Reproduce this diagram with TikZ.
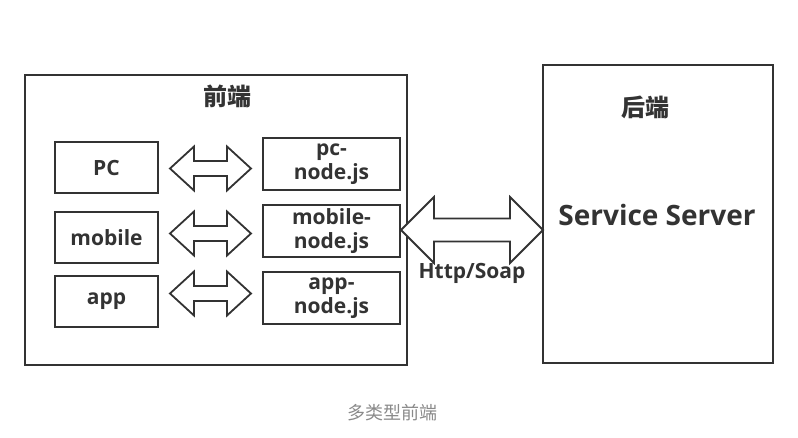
\documentclass[tikz,border=0pt]{standalone}
\usepackage{fontspec}
\setmainfont{Open Sans}
\newfontfamily\cjk{Noto Sans CJK SC}
\usetikzlibrary{calc}
\definecolor{ink}{HTML}{333333}
\definecolor{cap}{HTML}{8A8A8A}
\tikzset{
  box/.style={draw=ink, line width=2pt, inner sep=0pt, font=\fontsize{21}{24}\selectfont\bfseries, text=ink, align=center},
  blk/.style={draw=ink, line width=1.8pt, fill=white, line join=miter},
}
\newcommand\blockarrow[5]{%
  \draw[blk] (#1) -- ++(#5,-#3) -- ++(0,#3-#4) -- ($(#2)+(-#5,-#4)$) -- ++(0,#4-#3) -- (#2)
    -- ++(-#5,#3) -- ++(0,#4-#3) -- ($(#1)+(#5,#4)$) -- ++(0,#3-#4) -- cycle;}
\begin{document}
\begin{tikzpicture}[x=1pt,y=-1pt]
\useasboundingbox (0,0) rectangle (798,437);
\fill[white] (0,0) rectangle (798,437);
% frontend
\node[box, minimum width=382pt, minimum height=290pt] (fe) at (216,220) {};
\node[text=ink, font=\cjk\bfseries\fontsize{24}{28}\selectfont] (fet) at (227,96) {前端};
\node[box, minimum width=103pt, minimum height=51pt] (pc) at (106.5,167.5) {PC};
\node[box, minimum width=103pt, minimum height=51pt] (mb) at (106.5,237.5) {mobile};
\node[box, minimum width=103pt, minimum height=51pt] (ap) at (106.5,301.5) {app};
\node[box, minimum width=137pt, minimum height=52pt] (pcn) at (331.5,164) {pc-\\node.js};
\node[box, minimum width=137pt, minimum height=52pt] (mbn) at (331.5,231) {mobile-\\node.js};
\node[box, minimum width=137pt, minimum height=52pt] (apn) at (331.5,298) {app-\\node.js};
% backend
\node[box, minimum width=230pt, minimum height=298pt] (be) at (658,214) {};
\node[text=ink, font=\cjk\bfseries\fontsize{24}{28}\selectfont] (bet) at (645,107) {后端};
\node[text=ink, font=\fontsize{28}{32}\selectfont\bfseries] (ss) at (657,215) {Service Server};
% arrows
\coordinate (a1) at ($(pc.east)+(11,1)$);
\coordinate (b1) at ($(pc.east)+(92,1)$);
\coordinate (a2) at ($(mb.east)+(11,-4)$);
\coordinate (b2) at ($(mb.east)+(92,-4)$);
\coordinate (a3) at ($(ap.east)+(11,-8)$);
\coordinate (b3) at ($(ap.east)+(92,-8)$);
\blockarrow{a1}{b1}{22}{7.5}{24}
\blockarrow{a2}{b2}{22}{7.5}{24}
\blockarrow{a3}{b3}{22}{7.5}{24}
\coordinate (c1) at ($(mbn.east)+(0,-1)$);
\coordinate (c2) at ($(mbn.east -| be.west)+(1,-1)$);
\blockarrow{c1}{c2}{33}{11.5}{33}
\node[text=ink, font=\fontsize{21}{24}\selectfont\bfseries] (hs) at (472,273) {Http/Soap};
% caption
\node[text=cap, font=\cjk\fontsize{18}{22}\selectfont] (capt) at (392,413) {多类型前端};
\end{tikzpicture}
\end{document}
